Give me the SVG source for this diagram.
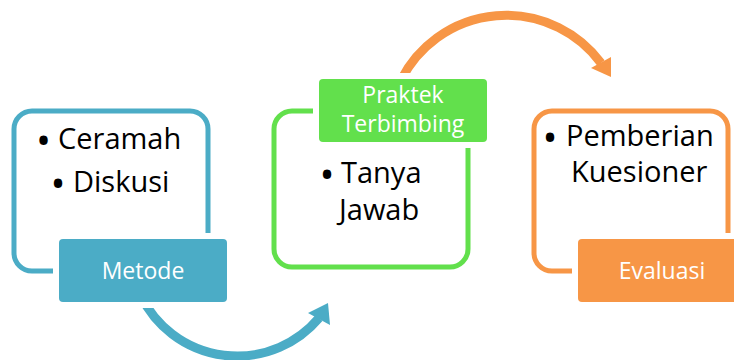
<svg xmlns="http://www.w3.org/2000/svg" width="734" height="360" viewBox="0 0 734 360">
<style>
.box{fill:#fff;stroke-width:5}
.lbl-bg{fill:#fff}
.lbl-t{font-family:"Open Sans","Noto Sans",sans-serif;font-size:23px;fill:#fff;text-anchor:middle}
.t{font-family:"Open Sans","Noto Sans",sans-serif;font-size:29px;fill:#000}
.b{font-family:"Open Sans","Noto Sans",sans-serif;font-size:40px;fill:#000;text-anchor:middle}
.arc{fill:none;stroke-width:9}
</style>
<rect width="734" height="360" fill="#fff"/>
<g id="connectors">
  <path class="arc" stroke="#4BACC6" d="M 141 296 A 107 107 0 0 0 319 318"/>
  <polygon fill="#4BACC6" points="328,303 308,313 330,325"/>
  <path class="arc" stroke="#F79646" d="M 401 80 A 118 118 0 0 1 601 63"/>
  <polygon fill="#F79646" points="611,77 591,68 611,57"/>
</g>
<g id="metode">
  <rect class="box" stroke="#4BACC6" x="14" y="111" width="194" height="160" rx="18"/>
  <text class="b" x="43.5" y="155">•</text>
  <text class="t" x="58" y="149">Ceramah</text>
  <text class="b" x="58" y="198">•</text>
  <text class="t" x="73" y="192">Diskusi</text>
  <rect class="lbl-bg" x="53" y="233" width="180" height="75"/>
  <rect fill="#4BACC6" x="59" y="239" width="168" height="63" rx="4"/>
  <text class="lbl-t" x="143" y="279">Metode</text>
</g>
<g id="praktek">
  <rect class="box" stroke="#62E04C" x="274" y="111" width="194" height="156" rx="18"/>
  <text class="b" x="327" y="189">•</text>
  <text class="t" x="341" y="183">Tanya</text>
  <text class="t" x="339" y="220">Jawab</text>
  <rect class="lbl-bg" x="313" y="73" width="180" height="75"/>
  <rect fill="#62E04C" x="319" y="79" width="168" height="63" rx="4"/>
  <text class="lbl-t" x="403" y="103">Praktek</text>
  <text class="lbl-t" x="403" y="132">Terbimbing</text>
</g>
<g id="evaluasi">
  <rect class="box" stroke="#F79646" x="534" y="111" width="194" height="160" rx="18"/>
  <text class="b" x="550" y="152">•</text>
  <text class="t" x="566" y="146">Pemberian</text>
  <text class="t" x="571" y="182">Kuesioner</text>
  <rect class="lbl-bg" x="572" y="233" width="180" height="75"/>
  <rect fill="#F79646" x="578" y="239" width="168" height="63" rx="4"/>
  <text class="lbl-t" x="662" y="279">Evaluasi</text>
</g>
</svg>
